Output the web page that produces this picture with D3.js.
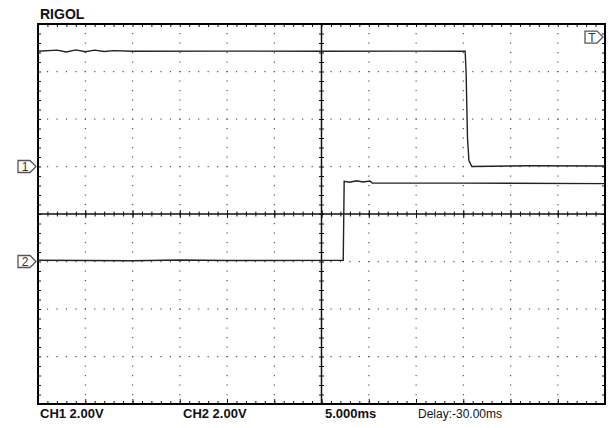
<!DOCTYPE html>
<html>
<head>
<meta charset="utf-8">
<script src="https://cdn.jsdelivr.net/npm/d3@7"></script>
<style>
  body { margin: 0; background: #fff; }
  svg { display: block; font-family: "Liberation Sans", Arial, sans-serif; }
</style>
</head>
<body>
<svg width="609" height="428"></svg>
<script>
// Channel 1 trace (time in ms, volts)
const ch1Time = [-60, -58, -57, -56, -55, -54, -53, -52, -50, -40, -30, -20, -14.8, -14.7, -14.55, -14.4, -14.1, -8, 0];
const ch1Volt = [4.85, 4.90, 4.82, 4.91, 4.83, 4.90, 4.84, 4.88, 4.85, 4.86, 4.85, 4.86, 4.85, 4.0, 1.2, 0.25, 0.0, 0.03, 0.02];
// Channel 2 trace
const ch2Time = [-60, -50, -45, -40, -27.7, -27.6, -27.0, -26.3, -25.6, -24.9, -24.6, -15, 0];
const ch2Volt = [0.05, 0.03, 0.06, 0.04, 0.05, 3.38, 3.34, 3.40, 3.35, 3.39, 3.30, 3.30, 3.28];

const ch1Offset = 2;   // volts, ground one division above centre
const ch2Offset = -2;  // ground one division below centre
const trigLevel = 5.45; // ch1 trigger level (V)

const bottomLabels = ["CH1 2.00V", "CH2 2.00V", "5.000ms", "Delay:-30.00ms"];

const frame = {left: 38, right: 605, top: 24, bottom: 404};

const svg = d3.select("svg");

const x = d3.scaleLinear().domain([-60, 0]).range([frame.left, frame.right]);
const y = d3.scaleLinear().domain([-8, 8]).range([frame.bottom, frame.top]);

const xMinor = d3.range(-60, 0.01, 1);
const xMajor = d3.range(-60, 0.01, 5);
const yMinor = d3.range(-8, 8.01, 0.4);
const yMajor = d3.range(-8, 8.01, 2);

// dotted grid
const grid = svg.append("g").attr("fill", "#555");
xMajor.filter(t => t > -60 && t < 0 && t !== -30).forEach(t => {
    yMinor.forEach(v => {
        grid.append("rect").attr("x", x(t) - 0.5).attr("y", y(v) - 0.5)
            .attr("width", 1.2).attr("height", 1.2);
    });
});
yMajor.filter(v => v > -8 && v < 8 && v !== 0).forEach(v => {
    xMinor.forEach(t => {
        grid.append("rect").attr("x", x(t) - 0.5).attr("y", y(v) - 0.5)
            .attr("width", 1.2).attr("height", 1.2);
    });
});

function styleAxis(g) {
    g.select(".domain").remove();
    g.selectAll(".tick line").attr("stroke", "#111").attr("stroke-width", 1);
}

// ticks on the frame, pointing inward
svg.append("g").attr("transform", `translate(0,${frame.top})`)
    .call(d3.axisBottom(x).tickValues(xMinor).tickSize(3).tickFormat("")).call(styleAxis);
svg.append("g").attr("transform", `translate(0,${frame.bottom})`)
    .call(d3.axisTop(x).tickValues(xMinor).tickSize(3).tickFormat("")).call(styleAxis);
svg.append("g").attr("transform", `translate(0,${frame.bottom})`)
    .call(d3.axisTop(x).tickValues(xMajor).tickSize(5).tickFormat("")).call(styleAxis);
svg.append("g").attr("transform", `translate(${frame.left},0)`)
    .call(d3.axisRight(y).tickValues(yMinor).tickSize(3).tickFormat("")).call(styleAxis);
svg.append("g").attr("transform", `translate(${frame.right},0)`)
    .call(d3.axisLeft(y).tickValues(yMinor).tickSize(3).tickFormat("")).call(styleAxis);

// centre cross with ticks on both sides
svg.append("line").attr("x1", frame.left).attr("x2", frame.right).attr("y1", y(0)).attr("y2", y(0))
    .attr("stroke", "#111").attr("stroke-width", 1.5);
svg.append("line").attr("x1", x(-30)).attr("x2", x(-30)).attr("y1", frame.top).attr("y2", frame.bottom)
    .attr("stroke", "#111").attr("stroke-width", 1.5);
svg.append("g").attr("transform", `translate(0,${y(0) + 2.5})`)
    .call(d3.axisTop(x).tickValues(xMinor).tickSize(5).tickFormat("")).call(styleAxis);
svg.append("g").attr("transform", `translate(0,${y(0) + 4})`)
    .call(d3.axisTop(x).tickValues(xMajor).tickSize(8).tickFormat("")).call(styleAxis);
svg.append("g").attr("transform", `translate(${x(-30) - 2.5},0)`)
    .call(d3.axisRight(y).tickValues(yMinor).tickSize(5).tickFormat("")).call(styleAxis);

// frame
svg.append("rect").attr("x", frame.left).attr("y", frame.top)
    .attr("width", frame.right - frame.left).attr("height", frame.bottom - frame.top)
    .attr("fill", "none").attr("stroke", "#000").attr("stroke-width", 2);

// traces
const line = d3.line().x(d => x(d[0])).y(d => y(d[1]));
svg.append("path").datum(ch1Time.map((t, i) => [t, ch1Volt[i] + ch1Offset]))
    .attr("d", line).attr("fill", "none").attr("stroke", "#222").attr("stroke-width", 1.4);
svg.append("path").datum(ch2Time.map((t, i) => [t, ch2Volt[i] + ch2Offset]))
    .attr("d", line).attr("fill", "none").attr("stroke", "#222").attr("stroke-width", 1.4);

// channel / trigger markers
function marker(px, py, label) {
    const g = svg.append("g").attr("transform", `translate(${px},${py})`);
    g.append("path").attr("d", "M-19,-6 H-7 L-1,0 L-7,6 H-19 Z")
        .attr("fill", "#fff").attr("stroke", "#555").attr("stroke-width", 1.3);
    g.append("text").attr("x", -12).attr("y", 4.5).attr("text-anchor", "middle")
        .attr("font-size", 12).attr("fill", "#333").text(label);
}
marker(frame.left - 1, y(ch1Offset), "1");
marker(frame.left - 1, y(ch2Offset), "2");
marker(frame.right - 1, y(trigLevel + ch1Offset), "T");

// titles
svg.append("text").attr("x", 40).attr("y", 19).attr("font-size", 14)
    .attr("font-weight", "bold").attr("fill", "#111").text("RIGOL");

const labelX = [40, 183, 325, 418];
bottomLabels.forEach((s, i) => {
    svg.append("text").attr("x", labelX[i]).attr("y", 418)
        .attr("font-size", i === 3 ? 12 : 13)
        .attr("font-weight", i === 3 ? "normal" : "bold")
        .attr("fill", "#111").text(s);
});
</script>
</body>
</html>
